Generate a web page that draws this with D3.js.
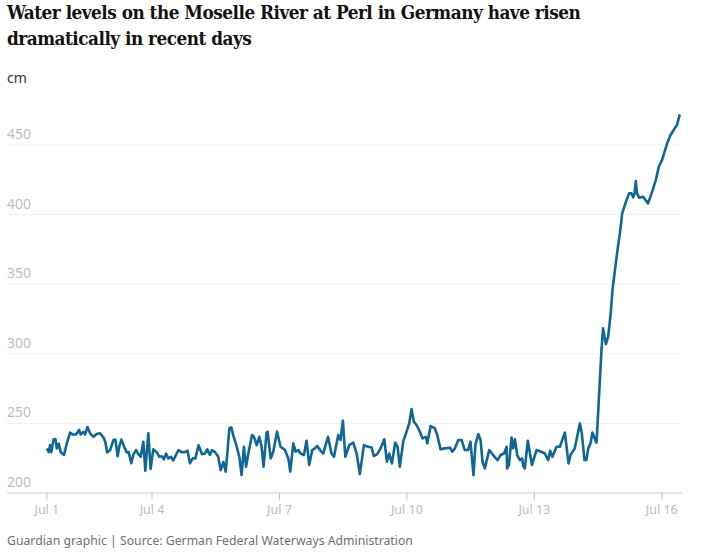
<!DOCTYPE html>
<html>
<head>
<meta charset="utf-8">
<script src="https://cdn.jsdelivr.net/npm/d3@7"></script>
<style>
  body { margin: 0; background: #fff; }
  svg { display: block; }
  text { font-family: "Noto Sans", sans-serif; }
  .title { font-family: "DejaVu Serif", serif; font-stretch: condensed; font-weight: bold; font-size: 18.8px; letter-spacing: -0.5px; fill: #121212; }
</style>
</head>
<body>
<svg id="chart" width="712" height="552"></svg>
<script>
var titleLines = ['Water levels on the Moselle River at Perl in Germany have risen', 'dramatically in recent days'];
var unitLabel = 'cm';
var sourceLabel = 'Guardian graphic | Source: German Federal Waterways Administration';

// hours since 00:00 on Jul 1
var hours = [12.6,13.4,13.9,14.7,15.4,16.6,17.7,18.5,19.6,20.7,22.6,24.1,26,27.5,29.4,31.1,32,33.5,34.5,35.8,
  37.3,39.2,41,42.9,44.8,45.9,46.9,48.6,50.5,51.6,52.9,53.8,55,56.5,58,59.1,60.6,61.7,63.3,64.6,
  65.9,67.4,68.5,70.2,71.5,73,74.9,76.4,77.9,79,80.2,81.5,83,84.3,86.2,87.2,89,90.9,92.4,93.7,
  95.3,96.8,98.6,100.5,102.2,103.5,105,106.2,107.9,109.7,111.1,112.6,113.9,115,116,117.1,118.2,119.7,
  120.1,121.6,122.9,124.2,125.4,126.7,128.8,129.9,131.4,132.9,134.2,135.3,137,137.6,139.3,140.8,142.9,144.9,147.4,149.3,
  150.4,152.1,153.4,154.9,156.2,158.1,159.6,161.1,162.8,164.3,165.6,167.2,169,171.7,173.7,175.1,177.5,178.8,180.1,181.5,
  183.7,186,187.9,189.7,192,194.4,196.3,197.6,199.5,201.4,203.5,205,206.3,207.8,209.7,211,212.3,214.2,216.1,217.6,
  218.9,220.2,221.7,223.6,225.1,227,227.8,229.7,232.1,233.4,235.3,237.7,240.6,241.9,243.4,245.3,247.2,249,250.9,
  252.2,253.9,255,256.6,257.9,259,260.3,262.8,265,267.5,269.2,271.2,272.6,272.9,273.9,275.4,276.3,277.3,278.6,280.1,
  281.4,282,282.9,284.6,286.9,289.5,292,294.2,296.1,297.2,298.5,300.8,302.7,305.5,307.6,308.7,311.1,314,315.1,316.6,
  317.7,318.7,320,321.1,323.4,324.1,326.2,327.1,328.7,330,331.5,332.4,335,337,337.9,339.4,341.8,343.2,344.1,344.9,
  345.6,346.3,347.5,349.7,352.5,354.5,356.9,358.6,360.4,363.3,365.2,367.6,368.9,370.4];

var levels = [230.5,231,229,234,229,238,238.4,231.7,235,229,227,235,243,241.7,241.7,245,241.7,243.6,241.7,247,
  242.5,240,242,242.5,239.6,236.5,228.8,230.5,237.7,238,226,233,238,233,228.8,229,221,227,230.5,227.6,
  225.7,236.5,215.6,242.5,217,231,229,225.7,226,223.8,228,224.5,225.7,223,228,230.5,229,229,230,221,
  224.5,224.5,234,227.6,228,231,227,230.5,229,225.7,216,222,215,230.5,246,246.8,241,235,
  232.9,225.7,212.5,232.9,218.5,228,241.3,240,234,240,232.9,218.5,243,243.7,224.5,229.3,243.7,232.9,230.5,224.5,
  215,235.3,229.3,230.5,228,226.9,237.2,219.7,230.5,231.7,233.4,230.5,228,240,228,225.7,241.3,237.7,251.6,225.7,
  234,235.8,228,213.2,234,232.9,232.4,226.2,227.6,231.7,238.2,222.1,228,220.9,235.8,232.9,218.5,236.5,243.7,249.6,
  259.9,250.8,248.5,243.7,238.9,240,235.3,247.7,246,241.3,231,231.7,232.2,229.3,231.7,237.7,237.7,230.5,230.5,
  236.5,212.5,234,242,237.7,222.1,217.3,230.5,226.9,223.3,226.9,228,232.9,217.3,219.7,239.4,231.7,238.2,226.9,223.3,
  224.5,219,217.3,237.2,219.7,230.5,229.3,228,223.3,230,225.7,232.9,232.9,243,220.9,226.9,231.7,249.6,242.5,223.3,
  223.3,231.7,235.3,243,235.8,252,302.3,317.9,306.6,311.9,329.8,345.4,371.8,390,400.5,406.5,414.9,414.9,412,414.9,
  423.7,414.9,411.7,412.4,407.7,414.9,424.4,434,438.8,450.8,456.8,461.6,464,471.6];

var yTicks = [200, 250, 300, 350, 400, 450];
var xTickHours = [12.6, 72, 144, 216, 288, 360];
var xTickLabels = ['Jul 1', 'Jul 4', 'Jul 7', 'Jul 10', 'Jul 13', 'Jul 16'];

var svg = d3.select('#chart');

var x = d3.scaleLinear().domain([72, 360]).range([151.5, 661.3]);
var y = d3.scaleLinear().domain([200, 450]).range([492.5, 144.5]);

svg.selectAll('.title')
    .data(titleLines)
    .enter().append('text')
    .attr('class', 'title')
    .attr('x', 7)
    .attr('y', function(d, i) { return 19 + i * 26; })
    .text(function(d) { return d; });

svg.append('text')
    .attr('x', 7)
    .attr('y', 83)
    .attr('font-size', 14)
    .attr('fill', '#333')
    .text(unitLabel);

// gridlines, with the labels sitting on top of them
var yAxis = svg.append('g')
    .attr('transform', 'translate(7,0)')
    .call(d3.axisRight(y).tickValues(yTicks).tickSize(675).tickFormat(d3.format('d')));
yAxis.select('.domain').remove();
yAxis.selectAll('.tick line')
    .attr('stroke', function(d) { return d === 200 ? '#cfcfcf' : '#f1f1f1'; });
yAxis.selectAll('.tick text')
    .attr('x', 0)
    .attr('dy', -6)
    .attr('text-anchor', 'start')
    .attr('font-family', '"Noto Sans", sans-serif')
    .attr('font-size', 14)
    .attr('fill', '#bdbdbd');

var xAxis = svg.append('g')
    .attr('transform', 'translate(0,' + y(200) + ')')
    .call(d3.axisBottom(x).tickValues(xTickHours).tickSize(7).tickPadding(6)
        .tickFormat(function(d, i) { return xTickLabels[i]; }));
xAxis.select('.domain').remove();
xAxis.selectAll('.tick line').attr('stroke', '#bdbdbd');
xAxis.selectAll('.tick text')
    .attr('font-family', '"Noto Sans", sans-serif')
    .attr('font-size', 12.5)
    .attr('fill', '#bdbdbd');

var line = d3.line()
    .x(function(d) { return x(d); })
    .y(function(d, i) { return y(levels[i]); });

svg.append('path')
    .datum(hours)
    .attr('d', line)
    .attr('fill', 'none')
    .attr('stroke', '#106795')
    .attr('stroke-width', 2.6)
    .attr('stroke-linejoin', 'round');

svg.append('text')
    .attr('x', 7)
    .attr('y', 545)
    .attr('font-size', 12.25)
    .attr('fill', '#707070')
    .text(sourceLabel);
</script>
</body>
</html>
